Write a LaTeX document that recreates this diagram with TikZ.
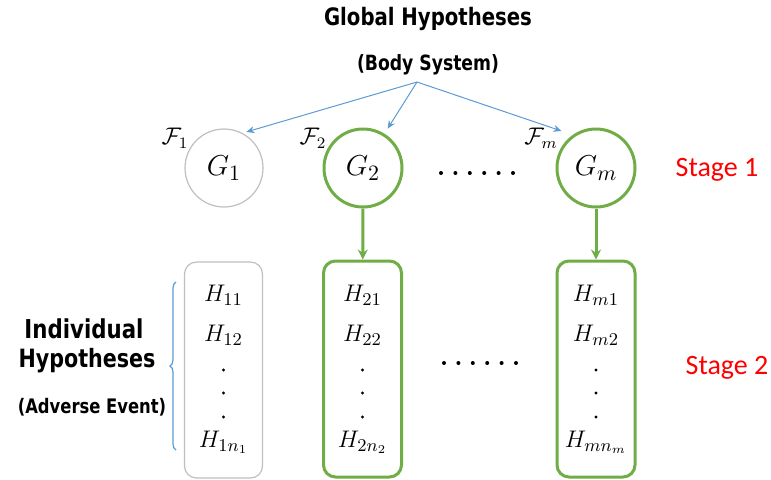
\documentclass[tikz,border=0pt]{standalone}
\usepackage{fontspec}
\usepackage{tikz}
\usetikzlibrary{positioning,arrows.meta,decorations.pathreplacing}
\newfontfamily\headfont[FakeStretch=0.82]{DejaVu Sans}
\newfontfamily\stagefont{Carlito}
\definecolor{gGreen}{RGB}{112,173,71}
\definecolor{gBlue}{RGB}{91,155,213}
\definecolor{gGray}{RGB}{191,191,191}
\definecolor{sRed}{RGB}{255,0,0}
\tikzset{
  head/.style={font=\headfont\bfseries, inner sep=0pt},
  gnode/.style={circle, draw=gGreen, line width=1.5pt, minimum size=39pt,
                inner sep=0pt, font=\fontsize{15}{15}\selectfont},
  gnodeoff/.style={gnode, draw=gGray, line width=0.6pt},
  hbox/.style={rectangle, rounded corners=6pt, draw=gGreen, line width=1.5pt,
               minimum width=39pt, minimum height=108pt},
  hboxoff/.style={hbox, draw=gGray, line width=0.6pt},
  hyp/.style={font=\fontsize{12.5}{13}\selectfont, inner sep=0pt},
  fam/.style={font=\fontsize{12}{12}\selectfont, inner sep=0pt},
  dot/.style={circle, fill=black, minimum size=2pt, inner sep=0pt},
  vdot/.style={dot, minimum size=1.6pt},
  stage/.style={font=\stagefont\fontsize{14}{14}\selectfont, text=sRed},
  pick/.style={-{Stealth[length=4pt,width=3.5pt]}, draw=gBlue, line width=0.5pt},
  down/.style={-{Stealth[length=5pt,width=5pt]}, draw=gGreen, line width=1.5pt},
  brc/.style={draw=gBlue, line width=0.6pt, decorate,
              decoration={brace, amplitude=3pt}},
}
% one column of individual hypotheses: name, x, group index, n-subscript
\newcommand{\HypCol}[4]{%
  \node[hyp] (#1a) at (#2,295) {$H_{#31}$};
  \node[hyp] (#1b) at (#2,335) {$H_{#32}$};
  \node[vdot] (#1c) at (#2,370) {};
  \node[vdot] (#1d) at (#2,393) {};
  \node[vdot] (#1e) at (#2,417) {};
  \node[hyp] (#1n) at (#2,442) {$H_{#3n_{#4}}$};}

\begin{document}
\begin{tikzpicture}[x=0.5pt,y=-0.5pt]
  \useasboundingbox (0,0) rectangle (771,479);

  % --- titles ---
  \node[head, font=\headfont\bfseries\fontsize{12}{12}\selectfont] (gtitle) at (428,19) {Global Hypotheses};
  \node[head, font=\headfont\bfseries\fontsize{10.5}{11}\selectfont] (gsub) at (428,65) {(Body System)};
  \coordinate (top) at (417,82);

  % --- stage 1: global hypotheses ---
  \node[gnodeoff] (g1) at (224,168) {$G_1$};
  \node[gnode] (g2) at (363,168) {$G_2$};
  \node[gnode] (gm) at (596,168) {$G_m$};
  \node[fam] (f1) at (175,138) {$\mathcal{F}_1$};
  \node[fam] (f2) at (313,138) {$\mathcal{F}_2$};
  \node[fam] (fm) at (541,138) {$\mathcal{F}_m$};
  \foreach \i in {0,...,5}
    \node[dot] (gd\i) at (441+14.4*\i,173) {};
  \node[stage] (st1) at (717,170) {Stage 1};

  % --- selection arrows ---
  \draw[pick, shorten >=2pt] (top) -- (g1.62);
  \draw[pick, shorten >=3pt] (top) -- (g2.58);
  \draw[pick, shorten >=6pt] (top) -- (gm.125);

  % --- stage 2: individual hypotheses ---
  \node[hboxoff] (b1) at (223.5,370) {};
  \node[hbox] (b2) at (362.5,369) {};
  \node[hbox] (bm) at (596,369) {};
  \HypCol{h1}{223.5}{1}{1}
  \HypCol{h2}{362.5}{2}{2}
  \HypCol{hm}{596}{m}{m}
  \foreach \i in {0,...,5}
    \node[dot] (hd\i) at (444+14.4*\i,363) {};
  \node[stage] (st2) at (727,368) {Stage 2};

  \draw[down] (g2) -- (b2);
  \draw[down] (gm) -- (bm);

  % --- left labels ---
  \coordinate (brB) at (176,450);
  \coordinate (brT) at (176,282);
  \draw[brc] (brB) -- (brT);
  \node[head, font=\headfont\bfseries\fontsize{13}{13}\selectfont] (ind1) at (84,329) {Individual};
  \node[head, font=\headfont\bfseries\fontsize{12.6}{13}\selectfont] (ind2) at (87,361) {Hypotheses};
  \node[head, font=\headfont\bfseries\fontsize{10}{10}\selectfont] (ind3) at (92,407) {(Adverse Event)};
\end{tikzpicture}
\end{document}
